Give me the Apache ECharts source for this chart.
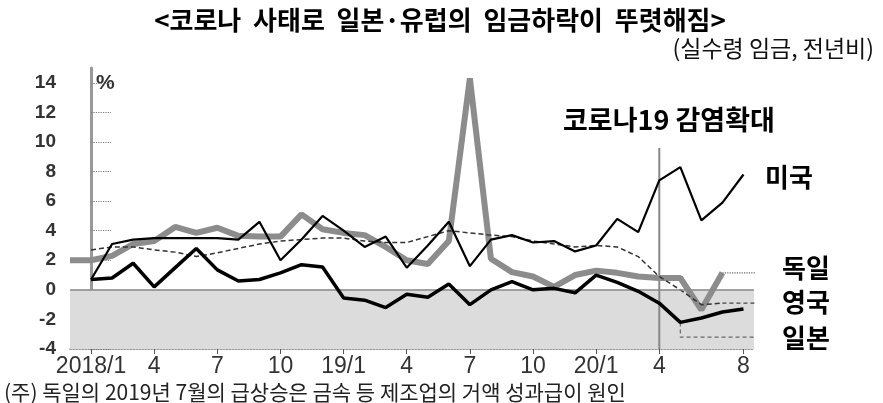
<!DOCTYPE html>
<html><head><meta charset="utf-8">
<script src="https://cdn.jsdelivr.net/npm/echarts@6/dist/echarts.min.js"></script>
<style>html,body{margin:0;padding:0;background:#fff}#c{width:883px;height:403px}</style>
</head><body><div id="c"></div>
<script>
// months from 2017/12 to 2020/8; x value = index - 1 (2018/1 -> 0)
const months = ['2017/12',
 '2018/1','2018/2','2018/3','2018/4','2018/5','2018/6','2018/7','2018/8','2018/9','2018/10','2018/11','2018/12',
 '2019/1','2019/2','2019/3','2019/4','2019/5','2019/6','2019/7','2019/8','2019/9','2019/10','2019/11','2019/12',
 '2020/1','2020/2','2020/3','2020/4','2020/5','2020/6','2020/7','2020/8'];
const tickMonths = ['2018/1','2018/4','2018/7','2018/10','2019/1','2019/4','2019/7','2019/10','2020/1','2020/4','2020/8'];
const tickLabels = ['2018/1','4','7','10','19/1','4','7','10','20/1','4','8'];
const yTicks = [-4,-2,0,2,4,6,8,10,12,14];

const usWage = [null, 0.7, 3.1, 3.4, 3.5, 3.5, 3.5, 3.5, 3.4, 4.6, 2.0, 3.4, 5.0, 4.0, 2.9, 3.6, 1.5, 3.0, 4.6, 1.6, 3.4, 3.7, 3.2, 3.3, 2.6, 3.0, 4.8, 3.9, 7.4, 8.3, 4.7, 5.9, 7.8];
const jpWage = [null, 0.7, 0.8, 1.8, 0.2, 1.5, 2.8, 1.35, 0.6, 0.7, 1.15, 1.7, 1.55, -0.55, -0.7, -1.2, -0.3, -0.5, 0.4, -1.0, 0.0, 0.55, 0.0, 0.1, -0.2, 1.0, 0.5, -0.1, -0.9, -2.2, -1.9, -1.5, -1.3];
const deWage = [2.0, 2.0, 2.3, 3.1, 3.3, 4.25, 3.85, 4.2, 3.65, 3.6, 3.6, 5.1, 4.1, 3.85, 3.7, 2.9, 2.0, 1.75, 3.3, 14.3, 2.1, 1.2, 0.9, 0.2, 1.0, 1.3, 1.15, 0.9, 0.8, 0.8, -1.35, 1.15, null];
const ukWage = [null, 2.7, 2.9, 2.9, 2.7, 2.55, 2.25, 2.5, 2.8, 3.1, 3.3, 3.4, 3.5, 3.5, 3.3, 3.2, 3.2, 3.6, 4.0, 3.85, 3.7, 3.6, 3.3, 3.1, 2.9, 3.0, 2.9, 2.25, 0.9, 0.0, -1.0, -0.9, null];

const covidMonth = '2020/4';
const covidTop = 9.6;
const leaderEnd = 32.2;
const jpLeaderLevel = -3.2;

const xOf = m => months.indexOf(m) - 1;
const toPairs = arr => arr.map((v, i) => v == null ? null : [i - 1, v]).filter(p => p);
const lastPair = arr => { const p = toPairs(arr); return p[p.length - 1]; };

const chart = echarts.init(document.getElementById('c'), null, {renderer: 'canvas'});
const KR = '"Noto Sans CJK KR", sans-serif';

const deLast = lastPair(deWage), ukLast = lastPair(ukWage), jpDrop = [xOf('2020/5'), jpWage[months.indexOf('2020/5')]];

chart.setOption({
  animation: false,
  backgroundColor: '#fff',
  grid: {left: 70, right: 129, top: 68, bottom: 54},
  xAxis: {
    type: 'value', min: -1, max: 31.5,
    axisLine: {onZero: false, lineStyle: {color: '#777', width: 1.5, type: 'dotted'}},
    axisTick: {customValues: tickMonths.map(xOf), length: 5, lineStyle: {color: '#555'}},
    axisLabel: {customValues: tickMonths.map(xOf), formatter: v => tickLabels[tickMonths.map(xOf).indexOf(v)] || '',
      color: '#333', fontSize: 23, fontFamily: 'Liberation Sans', margin: 6},
    splitLine: {show: false}
  },
  yAxis: {
    type: 'value', min: -4, max: 15,
    axisLine: {show: true, lineStyle: {color: '#999', width: 3}},
    axisTick: {customValues: yTicks, inside: true, length: 20, lineStyle: {color: '#777', type: 'dotted', width: 1.2}},
    axisLabel: {customValues: yTicks, color: '#333', fontSize: 19, fontWeight: 'bold', fontFamily: 'Liberation Sans', margin: 14},
    splitLine: {show: false}
  },
  series: [
    {name: '독일', type: 'line', data: toPairs(deWage), symbol: 'none', z: 3,
     lineStyle: {color: '#8c8c8c', width: 6}},
    {name: '영국', type: 'line', data: toPairs(ukWage), symbol: 'none', z: 4,
     lineStyle: {color: '#333', width: 1.5, type: [5, 3]}},
    {name: '일본', type: 'line', data: toPairs(jpWage), symbol: 'none', z: 5,
     lineStyle: {color: '#000', width: 3.5},
     markArea: {silent: true, itemStyle: {color: '#dcdcdc'}, data: [[{yAxis: -4}, {yAxis: 0}]]},
     markLine: {silent: true, symbol: 'none', label: {show: false}, lineStyle: {color: '#888', width: 1.5, type: 'solid'}, data: [{yAxis: 0}]}},
    {name: '미국', type: 'line', data: toPairs(usWage), symbol: 'none', z: 6,
     lineStyle: {color: '#000', width: 2.2}},
    {name: 'covid', type: 'line', data: [[xOf(covidMonth), -4], [xOf(covidMonth), covidTop]], symbol: 'none', z: 2,
     lineStyle: {color: '#888', width: 2}},
    {name: 'deLeader', type: 'line', clip: false, data: [deLast, [leaderEnd, deLast[1]]], symbol: 'none', z: 2,
     lineStyle: {color: '#666', width: 1.2, type: 'dotted'}},
    {name: 'ukLeader', type: 'line', clip: false, data: [ukLast, [leaderEnd, ukLast[1]]], symbol: 'none', z: 2,
     lineStyle: {color: '#444', width: 1.2, type: [4, 3]}},
    {name: 'jpLeader', type: 'line', clip: false, data: [jpDrop, [jpDrop[0], jpLeaderLevel], [leaderEnd, jpLeaderLevel]], symbol: 'none', z: 2,
     lineStyle: {color: '#666', width: 1.2, type: [4, 3]}}
  ],
  graphic: [
    {type: 'text', x: 440, y: 20, style: {text: '<코로나  사태로  일본·유럽의  임금하락이  뚜렷해짐>', font: 'bold 26px ' + KR, fill: '#000', textAlign: 'center', textVerticalAlign: 'middle'}},
    {type: 'text', x: 874, y: 48, style: {text: '(실수령 임금, 전년비)', font: '23px ' + KR, fill: '#111', textAlign: 'right', textVerticalAlign: 'middle'}},
    {type: 'text', x: 96, y: 83, style: {text: '%', font: 'bold 21px "Liberation Sans"', fill: '#333', textAlign: 'left', textVerticalAlign: 'middle'}},
    {type: 'text', x: 563, y: 120, z: 10, style: {text: '코로나19 감염확대', font: 'bold 27px ' + KR, fill: '#000', textAlign: 'left', textVerticalAlign: 'middle'}},
    {type: 'text', x: 765, y: 177, style: {text: '미국', font: 'bold 26px ' + KR, fill: '#000', textAlign: 'left', textVerticalAlign: 'middle'}},
    {type: 'text', x: 782, y: 268, style: {text: '독일', font: 'bold 26px ' + KR, fill: '#000', textAlign: 'left', textVerticalAlign: 'middle'}},
    {type: 'text', x: 782, y: 302, style: {text: '영국', font: 'bold 26px ' + KR, fill: '#000', textAlign: 'left', textVerticalAlign: 'middle'}},
    {type: 'text', x: 782, y: 338, style: {text: '일본', font: 'bold 26px ' + KR, fill: '#000', textAlign: 'left', textVerticalAlign: 'middle'}},
    {type: 'text', x: 4, y: 392, style: {text: '(주) 독일의 2019년 7월의 급상승은 금속 등 제조업의 거액 성과급이 원인', font: '21px ' + KR, fill: '#222', textAlign: 'left', textVerticalAlign: 'middle'}}
  ]
});
</script></body></html>
